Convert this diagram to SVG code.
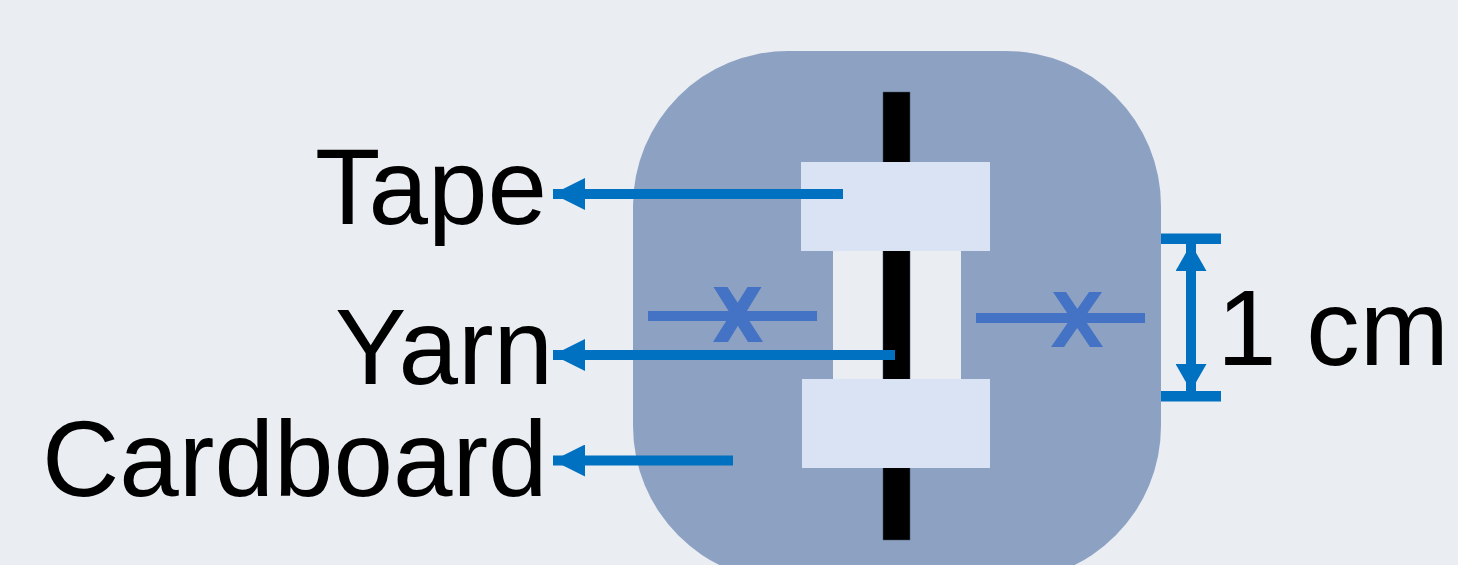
<svg xmlns="http://www.w3.org/2000/svg" width="1458" height="565" viewBox="0 0 1458 565">
  <style>
    .label { font-family: "Liberation Sans", Arial, sans-serif; font-size: 107px; fill: #000000; }
    .conn { stroke: #0070C0; stroke-width: 10; fill: none; }
    .cut { stroke: #4472C4; stroke-width: 10; fill: none; }
    .xmark { fill: #4472C4; }
    .tape { fill: #DAE3F3; }
  </style>
  <defs>
    <marker id="ah" markerUnits="userSpaceOnUse" markerWidth="32" markerHeight="32" refX="32" refY="16" orient="auto-start-reverse" viewBox="0 0 32 32">
      <polygon points="0,0 32,16 0,32" fill="#0070C0"/>
    </marker>
    <marker id="ahd" markerUnits="userSpaceOnUse" markerWidth="27" markerHeight="31" refX="27" refY="15.5" orient="auto-start-reverse" viewBox="0 0 27 31">
      <polygon points="0,0 27,15.5 0,31" fill="#0070C0"/>
    </marker>
  </defs>
  <rect x="0" y="0" width="1458" height="565" fill="#EAEDF2"/>

  <g id="cardboard">
    <rect x="633" y="51" width="528" height="530" rx="155" ry="155" fill="#8DA2C3"/>
    <rect x="833" y="250" width="128" height="129" fill="#EAEDF2"/>
  </g>

  <g id="yarn">
    <rect x="883" y="92" width="27" height="448" fill="#000000" stroke="#44546A" stroke-width="0.5"/>
  </g>

  <g id="tape-top">
    <rect class="tape" x="801" y="162" width="189" height="89"/>
  </g>
  <g id="tape-bottom">
    <rect class="tape" x="802" y="379" width="188" height="89"/>
  </g>

  <g id="cut-left">
    <line class="cut" x1="648" y1="316" x2="817" y2="316"/>
    <polygon class="xmark" points="713.5,287 727.5,287 763,342 748,342"/>
    <polygon class="xmark" points="747.5,287 761.5,287 728,342 713,342"/>
  </g>
  <g id="cut-right">
    <line class="cut" x1="976" y1="318" x2="1145" y2="318"/>
    <polygon class="xmark" points="1053,292 1066,292 1103,347 1090,347"/>
    <polygon class="xmark" points="1089,292 1102,292 1064,347 1051,347"/>
  </g>

  <g id="dimension">
    <line x1="1161" y1="238.7" x2="1221" y2="238.7" stroke="#0070C0" stroke-width="10.5"/>
    <line x1="1161" y1="396.3" x2="1221" y2="396.3" stroke="#0070C0" stroke-width="10.5"/>
    <line class="conn" x1="1191" y1="244" x2="1191" y2="391" marker-start="url(#ahd)" marker-end="url(#ahd)"/>
  </g>

  <g id="connectors">
    <line class="conn" x1="843" y1="194" x2="553" y2="194" marker-end="url(#ah)"/>
    <line class="conn" x1="895" y1="355" x2="553" y2="355" marker-end="url(#ah)"/>
    <line class="conn" x1="733" y1="460.5" x2="553" y2="460.5" marker-end="url(#ah)"/>
  </g>

  <g id="label-tape"><text class="label" x="315" y="224">Tape</text></g>
  <g id="label-yarn"><text class="label" x="335" y="384">Yarn</text></g>
  <g id="label-cardboard"><text class="label" x="42" y="496">Cardboard</text></g>
  <g id="label-1cm"><text class="label" x="1217" y="365" font-size="106">1 cm</text></g>
</svg>
